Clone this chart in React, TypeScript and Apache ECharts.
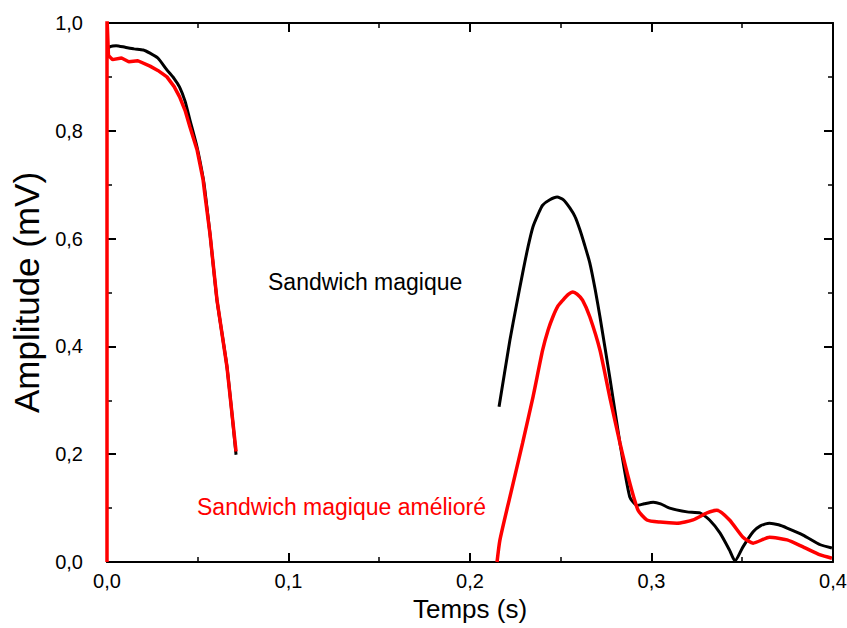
import React, { useEffect, useRef } from "react";
import * as echarts from "echarts";

const blackSeg1: [number, number][] = [
  [0, 0.95], [0.0017, 0.956], [0.005, 0.958], [0.01, 0.955], [0.015, 0.952], [0.02, 0.95],
  [0.0237, 0.944], [0.028, 0.935], [0.033, 0.913], [0.037, 0.897], [0.04, 0.881],
  [0.043, 0.855], [0.0457, 0.82], [0.0496, 0.77], [0.0529, 0.714], [0.054, 0.688],
  [0.0567, 0.61], [0.0606, 0.486], [0.0661, 0.362], [0.0711, 0.199],
];
const blackSeg2: [number, number][] = [
  [0.216, 0.288], [0.219, 0.35], [0.222, 0.412], [0.2255, 0.475], [0.229, 0.536],
  [0.232, 0.585], [0.2347, 0.622], [0.2375, 0.645], [0.24, 0.662], [0.244, 0.672],
  [0.248, 0.677], [0.2515, 0.672], [0.255, 0.657], [0.258, 0.64], [0.2606, 0.616],
  [0.263, 0.59], [0.266, 0.555], [0.269, 0.505], [0.2716, 0.455], [0.277, 0.343],
  [0.2826, 0.221], [0.288, 0.121], [0.292, 0.105], [0.296, 0.108], [0.301, 0.111],
  [0.305, 0.108], [0.31, 0.1], [0.3196, 0.093], [0.3267, 0.091], [0.332, 0.078],
  [0.3377, 0.054], [0.343, 0.022], [0.346, 0.002], [0.3504, 0.028], [0.356, 0.056],
  [0.36, 0.067], [0.365, 0.072], [0.37, 0.069], [0.3747, 0.063], [0.3835, 0.05],
  [0.393, 0.032], [0.3994, 0.026],
];
const redSeg1: [number, number][] = [
  [0, 0], [0, 1.01], [0.0008, 0.94], [0.003, 0.932], [0.008, 0.935], [0.012, 0.928],
  [0.017, 0.93], [0.0237, 0.92], [0.028, 0.912], [0.033, 0.9], [0.037, 0.882],
  [0.04, 0.863], [0.043, 0.838], [0.0457, 0.807], [0.0496, 0.765], [0.0529, 0.71],
  [0.054, 0.68], [0.0567, 0.61], [0.0606, 0.486], [0.0661, 0.362], [0.0711, 0.205],
];
const redSeg2: [number, number][] = [
  [0.2149, 0.0], [0.2165, 0.041], [0.222, 0.121], [0.229, 0.221], [0.2347, 0.306],
  [0.24, 0.393], [0.243, 0.43], [0.2457, 0.455], [0.2485, 0.475], [0.2512, 0.486],
  [0.254, 0.496], [0.2567, 0.501], [0.259, 0.497], [0.262, 0.486], [0.266, 0.455],
  [0.2716, 0.393], [0.277, 0.306], [0.2826, 0.221], [0.288, 0.147], [0.2926, 0.096],
  [0.2975, 0.078], [0.3047, 0.074], [0.314, 0.072], [0.3229, 0.078], [0.3306, 0.091],
  [0.336, 0.096], [0.343, 0.078], [0.3504, 0.046], [0.356, 0.035], [0.365, 0.046],
  [0.3747, 0.041], [0.3835, 0.028], [0.393, 0.013], [0.3994, 0.007],
];

const xTicks = [0, 0.1, 0.2, 0.3, 0.4];
const yTicks = [0, 0.2, 0.4, 0.6, 0.8, 1.0];

const fmt = (v: number) => v.toFixed(1).replace(".", ",");

export default function App() {
  const ref = useRef<HTMLDivElement>(null);
  useEffect(() => {
    if (!ref.current) return;
    const chart = echarts.init(ref.current, undefined, { renderer: "svg" });
    const FONT = "Liberation Sans";
    const tickFont = { fontFamily: FONT, fontSize: 20, color: "#000" };
    const axisCommon = {
      axisLine: { show: true, onZero: false, lineStyle: { color: "#000", width: 2 } },
      axisTick: { show: true, inside: true, length: 9, lineStyle: { color: "#000", width: 2 } },
      minorTick: { show: true, splitNumber: 2, length: 5, lineStyle: { color: "#000", width: 1.5 } },
      splitLine: { show: false },
    };
    chart.setOption({
      animation: false,
      backgroundColor: "#fff",
      grid: { left: 107, right: 14, top: 23, bottom: 66, containLabel: false, outerBoundsMode: "none" },
      xAxis: [
        {
          type: "value", min: 0, max: xTicks[xTicks.length - 1], interval: 0.1, position: "bottom",
          ...axisCommon,
          axisLabel: { ...tickFont, margin: 9, formatter: fmt },
          name: "Temps (s)", nameLocation: "middle", nameGap: 34,
          nameTextStyle: { fontFamily: FONT, fontSize: 26, color: "#000" },
        },
        {
          type: "value", min: 0, max: 0.4, interval: 0.1, position: "top",
          ...axisCommon, axisLabel: { show: false },
        },
      ],
      yAxis: [
        {
          type: "value", min: 0, max: yTicks[yTicks.length - 1], interval: 0.2, position: "left",
          ...axisCommon,
          axisLabel: { ...tickFont, margin: 24, formatter: fmt },
          name: "Amplitude (mV)", nameLocation: "middle", nameGap: 60,
          nameTextStyle: { fontFamily: FONT, fontSize: 35, color: "#000" },
        },
        {
          type: "value", min: 0, max: 1, interval: 0.2, position: "right",
          ...axisCommon, axisLabel: { show: false },
        },
      ],
      series: [
        { name: "Sandwich magique", type: "line", data: blackSeg1, showSymbol: false, smooth: 0.2, lineStyle: { color: "#000", width: 3 }, z: 2 },
        { name: "Sandwich magique 2", type: "line", data: blackSeg2, showSymbol: false, smooth: 0.2, lineStyle: { color: "#000", width: 3 }, z: 2 },
        { name: "Sandwich magique amélioré", type: "line", data: redSeg1, showSymbol: false, lineStyle: { color: "#ff0000", width: 3.5 }, z: 3 },
        { name: "Sandwich magique amélioré 2", type: "line", data: redSeg2, showSymbol: false, smooth: 0.2, lineStyle: { color: "#ff0000", width: 3.5 }, z: 3 },
      ],
      graphic: [
        {
          type: "text", left: 268, top: 270,
          style: { text: "Sandwich magique", fontFamily: FONT, fontSize: 23, fill: "#000" },
        },
        {
          type: "text", left: 197, top: 495,
          style: { text: "Sandwich magique amélioré", fontFamily: FONT, fontSize: 23, fill: "#ff0000" },
        },
      ],
    });
    return () => chart.dispose();
  }, []);
  return <div ref={ref} style={{ width: 847, height: 628, position: "absolute", left: 0, top: 0 }} />;
}
